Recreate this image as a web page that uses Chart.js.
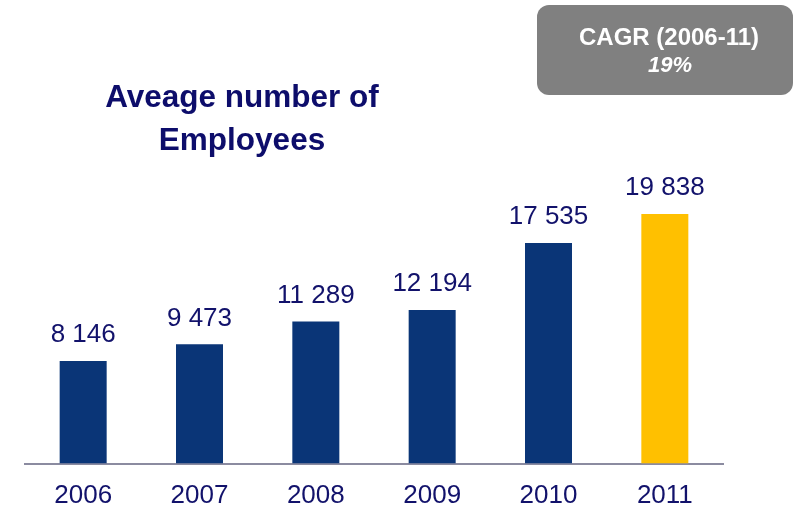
<!DOCTYPE html>
<html>
<head>
<meta charset="utf-8">
<script src="https://cdn.jsdelivr.net/npm/chart.js@4/dist/chart.umd.min.js"></script>
<style>
  body { margin: 0; background: #fff; }
</style>
</head>
<body>
<canvas id="myChart" width="796" height="507"></canvas>
<script>
const years = ["2006", "2007", "2008", "2009", "2010", "2011"];
const employees = [8146, 9473, 11289, 12194, 17535, 19838];
const barColors = ["#0A3577", "#0A3577", "#0A3577", "#0A3577", "#0A3577", "#FFC000"];
const titleLines = ["Aveage number of", "Employees"];
const cagrLines = ["CAGR (2006-11)", "19%"];

const navyText = "#12126B";

// 8146 -> "8 146"
function spaced(n) {
  return String(n).replace(/\B(?=(\d{3})+(?!\d))/g, " ");
}

const decorations = {
  id: "decorations",
  afterDatasetsDraw(chart) {
    const ctx = chart.ctx;
    ctx.save();

    // value labels above bars
    ctx.fillStyle = navyText;
    ctx.font = "26px 'Liberation Sans', Arial, sans-serif";
    ctx.textAlign = "center";
    ctx.textBaseline = "middle";
    chart.getDatasetMeta(0).data.forEach((bar, i) => {
      ctx.fillText(spaced(employees[i]), bar.x, bar.y - 26);
    });

    // title
    ctx.font = "bold 31.5px 'Liberation Sans', Arial, sans-serif";
    ctx.textBaseline = "alphabetic";
    ctx.fillStyle = "#0D0D6B";
    ctx.fillText(titleLines[0], 242, 107);
    ctx.fillText(titleLines[1], 242, 150);

    // CAGR box
    ctx.fillStyle = "#808080";
    ctx.beginPath();
    ctx.roundRect(537, 5, 256, 90, 12);
    ctx.fill();
    ctx.fillStyle = "#ffffff";
    ctx.font = "bold 24px 'Liberation Sans', Arial, sans-serif";
    ctx.fillText(cagrLines[0], 669, 45);
    ctx.font = "italic bold 22px 'Liberation Sans', Arial, sans-serif";
    ctx.fillText(cagrLines[1], 670, 72);

    ctx.restore();
  }
};

new Chart(document.getElementById("myChart"), {
  type: "bar",
  data: {
    labels: years,
    datasets: [
      {
        label: "employees",
        data: employees,
        backgroundColor: barColors,
        borderWidth: 0,
        categoryPercentage: 1,
        barPercentage: 0.404,
      },
    ],
  },
  options: {
    responsive: false,
    animation: false,
    devicePixelRatio: 1,
    layout: {
      padding: { left: 25, right: 73, top: 149, bottom: 0 },
    },
    plugins: {
      legend: { display: false },
      tooltip: { enabled: false },
    },
    scales: {
      x: {
        grid: { display: false, drawTicks: false },
        border: { display: true, color: "#8B8BA0", width: 2 },
        ticks: {
          color: navyText,
          padding: 17,
          font: { family: "'Liberation Sans', Arial, sans-serif", size: 26 },
        },
        afterFit(scale) {
          scale.height = 43.5;
        },
      },
      y: {
        display: false,
        min: 0,
        max: 25000,
      },
    },
  },
  plugins: [decorations],
});
</script>
</body>
</html>
